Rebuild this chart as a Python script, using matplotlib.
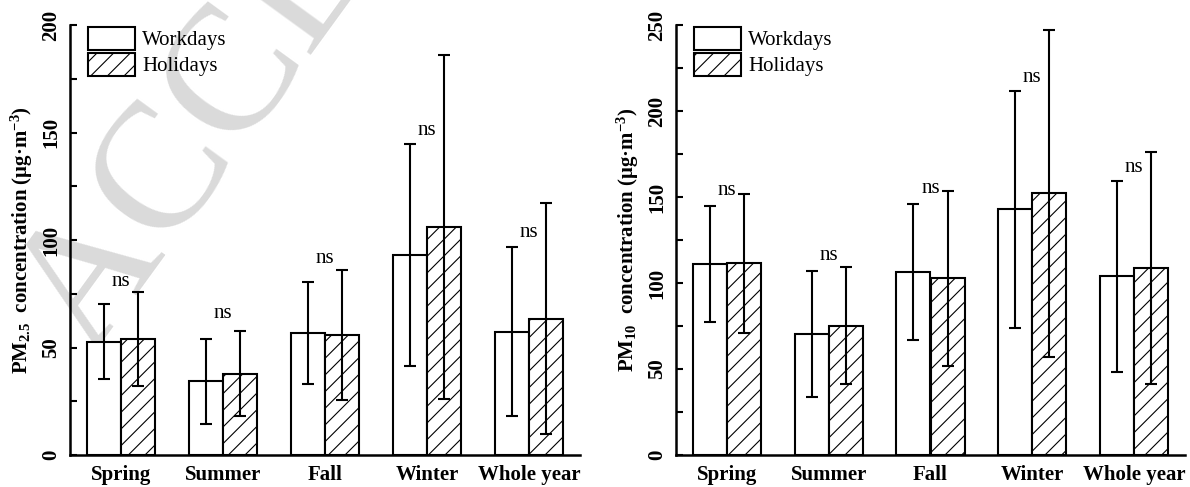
import numpy as np
import matplotlib
matplotlib.use('Agg')
from matplotlib import pyplot as plt
from matplotlib.ticker import MultipleLocator

plt.rcParams['font.family'] = ['Liberation Serif', 'DejaVu Serif']
plt.rcParams['mathtext.fontset'] = 'custom'
plt.rcParams['mathtext.rm'] = 'Liberation Serif'
plt.rcParams['mathtext.bf'] = 'Liberation Serif:bold'
plt.rcParams['mathtext.default'] = 'bf'
plt.rcParams['hatch.linewidth'] = 0.8

seasons = ['Spring', 'Summer', 'Fall', 'Winter', 'Whole year']

# PM2.5 (ug/m3), mean and standard deviation
pm25_work = [52.7, 34.3, 56.6, 92.9, 57.4]
pm25_work_sd = [17.5, 19.8, 23.8, 51.6, 39.2]
pm25_holi = [54.0, 37.8, 55.8, 105.9, 63.4]
pm25_holi_sd = [22.0, 19.8, 30.3, 80.0, 53.8]
pm25_ns_y = [80.6, 66.0, 91.6, 150.8, 103.6]

# PM10 (ug/m3)
pm10_work = [110.9, 70.2, 106.2, 142.8, 103.9]
pm10_work_sd = [33.8, 36.6, 39.6, 69.1, 55.4]
pm10_holi = [111.6, 75.2, 102.7, 152.1, 108.7]
pm10_holi_sd = [40.4, 34.0, 51.0, 95.0, 67.5]
pm10_ns_y = [153.7, 115.7, 154.7, 219.6, 167.0]

fs = 15
w = 0.335


def panel(ax, work, work_sd, holi, holi_sd, ns_y, ymax, ylabel):
    x = np.arange(len(seasons))
    err_kw = dict(ecolor='black', elinewidth=1.5, capsize=4, capthick=1.5)
    bw = ax.bar(x - w, work, w, align='edge', color='white', edgecolor='black',
                linewidth=1.5, yerr=work_sd, error_kw=err_kw, label='Workdays', zorder=2)
    bh = ax.bar(x, holi, w, align='edge', color='white', edgecolor='black',
                linewidth=1.5, hatch='//', yerr=holi_sd, error_kw=err_kw,
                label='Holidays', zorder=2)
    for xi, yi in zip(x, ns_y):
        ax.text(xi, yi, 'ns', ha='center', va='center', fontsize=fs)

    ax.set_xlim(-0.5, len(seasons) - 0.5)
    ax.set_ylim(0, ymax)
    ax.set_xticks(x)
    ax.set_xticklabels(seasons, fontsize=fs, fontweight='bold')
    ax.tick_params(axis='x', length=0, pad=7)
    ax.yaxis.set_major_locator(MultipleLocator(50))
    ax.yaxis.set_minor_locator(MultipleLocator(25))
    ax.tick_params(axis='y', which='both', direction='in', length=5, width=1.5,
                   labelrotation=90, pad=6.5)
    for lab in ax.get_yticklabels():
        lab.set_fontsize(fs)
        lab.set_fontweight('bold')
        lab.set_va('center')
    ax.spines['top'].set_visible(False)
    ax.spines['right'].set_visible(False)
    ax.spines['left'].set_linewidth(1.8)
    ax.spines['bottom'].set_linewidth(1.8)
    ax.set_facecolor('none')
    ax.set_ylabel(ylabel, fontsize=fs, fontweight='bold', labelpad=4)
    ax.legend(handles=[bw, bh], loc='upper left', bbox_to_anchor=(0.035, 0.995),
              frameon=False, fontsize=fs, borderpad=0, borderaxespad=0,
              handlelength=2.25, handleheight=1.3, handletextpad=0.35,
              labelspacing=0.12)


fig = plt.figure(figsize=(11.9, 4.87), dpi=100)

# journal watermark behind the panels
fig.text(90 / 1190, 128 / 487, 'ACCEPTED MANUSCRIPT', fontsize=130, color='#dadada',
         rotation=54, rotation_mode='anchor', ha='left', va='baseline', zorder=-5)

ax1 = fig.add_axes([70 / 1190, 32 / 487, 510 / 1190, 430 / 487])
ax2 = fig.add_axes([676 / 1190, 32 / 487, 509 / 1190, 430 / 487])

panel(ax1, pm25_work, pm25_work_sd, pm25_holi, pm25_holi_sd, pm25_ns_y, 200,
      r'PM$_{2.5}$  concentration (μg·m$^{-3}$)')
panel(ax2, pm10_work, pm10_work_sd, pm10_holi, pm10_holi_sd, pm10_ns_y, 250,
      r'PM$_{10}$  concentration (μg·m$^{-3}$)')

fig.savefig('out.png', dpi=100)
